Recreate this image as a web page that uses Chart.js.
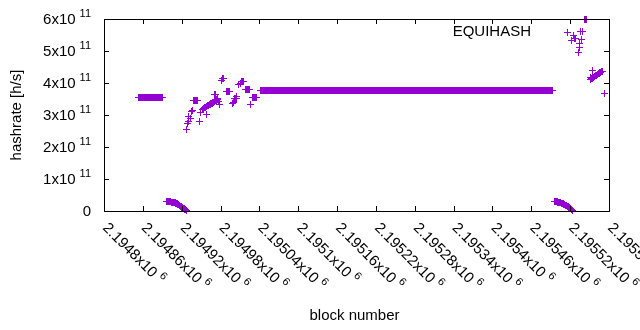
<!DOCTYPE html>
<html>
<head>
<meta charset="utf-8">
<script src="https://cdn.jsdelivr.net/npm/chart.js@4.4.1/dist/chart.umd.min.js"></script>
<style>
html, body { margin: 0; padding: 0; background: #ffffff; }
#wrap { width: 640px; height: 330px; }
</style>
</head>
<body>
<div id="wrap"><canvas id="c" width="640" height="330"></canvas></div>
<script>
// ---------- axis ticks ----------
const BLOCK_BASE = 2194800;
const xTickValues = [2194800, 2194860, 2194920, 2194980, 2195040, 2195100, 2195160,
                     2195220, 2195280, 2195340, 2195400, 2195460, 2195520, 2195580];
const xTickLabels = ['2.1948', '2.19486', '2.19492', '2.19498', '2.19504', '2.1951', '2.19516',
                     '2.19522', '2.19528', '2.19534', '2.1954', '2.19546', '2.19552', '2.19558'];
const xTickExponent = '6';
const yTickValues = [0, 1e11, 2e11, 3e11, 4e11, 5e11, 6e11];
const yTickLabels = ['0', '1x10', '2x10', '3x10', '4x10', '5x10', '6x10'];
const yTickExponent = '11';
const xTitle = 'block number';
const yTitle = 'hashrate [h/s]';
const seriesName = 'EQUIHASH';

// ---------- data (block offset from BLOCK_BASE, hashrate in h/s) ----------
// isolated points
const isoBlocks = [127, 129, 130, 131, 133, 135, 137, 147, 149, 152, 158, 170, 172, 173, 177, 178,
                   181, 183, 185, 199, 200, 205, 207, 211, 227,
                   716, 722, 725, 733, 734, 735, 736, 738, 739, 751, 755, 770, 773];
const isoRates = [2.56e11, 2.72e11, 2.80e11, 2.95e11, 2.88e11, 3.10e11, 3.14e11, 2.79e11, 3.07e11, 3.18e11,
                  3.02e11, 3.65e11, 3.63e11, 3.44e11, 3.42e11, 3.33e11,
                  4.08e11, 4.13e11, 4.15e11, 3.37e11, 3.40e11, 3.58e11, 3.94e11, 3.99e11, 3.33e11,
                  5.58e11, 5.34e11, 5.50e11, 4.96e11, 5.12e11, 5.24e11, 5.60e11, 5.37e11, 5.62e11,
                  4.18e11, 4.38e11, 4.37e11, 3.68e11];
// runs of consecutive blocks with the same hashrate
const runFirst = [53, 139, 189, 201, 212, 219, 230, 241, 726, 742];
const runLast  = [91, 144, 194, 204, 216, 225, 236, 693, 729, 746];
const runRate  = [3.56e11, 3.46e11, 3.75e11, 3.52e11, 4.04e11, 3.81e11, 3.55e11, 3.77e11, 5.38e11, 5.97e11];
// consecutive blocks with changing hashrate
const lowDropAStart = 97;
const lowDropARates = [0.29e11, 0.29e11, 0.29e11, 0.29e11, 0.29e11, 0.29e11, 0.29e11, 0.28e11, 0.28e11,
                       0.28e11, 0.28e11, 0.27e11, 0.27e11, 0.27e11, 0.25e11, 0.23e11, 0.22e11, 0.20e11,
                       0.19e11, 0.18e11, 0.16e11, 0.15e11, 0.14e11, 0.12e11, 0.11e11, 0.10e11, 0.08e11,
                       0.07e11, 0.06e11, 0.05e11, 0.03e11];
const riseStart = 153;
const riseRates = [3.20e11, 3.21e11, 3.22e11, 3.24e11, 3.25e11, 3.26e11, 3.27e11, 3.29e11, 3.30e11, 3.31e11,
                   3.32e11, 3.34e11, 3.35e11, 3.36e11, 3.37e11, 3.39e11, 3.40e11, 3.41e11, 3.43e11, 3.44e11,
                   3.46e11, 3.48e11, 3.50e11, 3.52e11];
const lowDropBStart = 696;
const lowDropBRates = [0.29e11, 0.29e11, 0.29e11, 0.29e11, 0.29e11, 0.28e11, 0.28e11, 0.28e11, 0.27e11,
                       0.26e11, 0.25e11, 0.24e11, 0.23e11, 0.22e11, 0.21e11, 0.20e11, 0.19e11, 0.18e11,
                       0.17e11, 0.16e11, 0.15e11, 0.14e11, 0.12e11, 0.10e11, 0.09e11, 0.07e11, 0.05e11, 0.03e11];
const tailStart = 752;
const tailRates = [4.12e11, 4.13e11, 4.15e11, 4.16e11, 4.18e11, 4.19e11, 4.21e11, 4.22e11, 4.24e11,
                   4.25e11, 4.27e11, 4.28e11, 4.30e11, 4.31e11, 4.33e11, 4.34e11, 4.36e11];

// ---------- build the point table ----------
const points = [];
isoBlocks.forEach((b, i) => points.push({ x: BLOCK_BASE + b, y: isoRates[i] }));
runFirst.forEach((f, i) => {
  for (let b = f; b <= runLast[i]; b++) points.push({ x: BLOCK_BASE + b, y: runRate[i] });
});
[[lowDropAStart, lowDropARates], [riseStart, riseRates], [lowDropBStart, lowDropBRates], [tailStart, tailRates]]
  .forEach(([s, rates]) => rates.forEach((r, i) => points.push({ x: BLOCK_BASE + s + i, y: r })));

const FONT = '"Liberation Sans", Arial, sans-serif';
const COLOR = '#9400d3';

// crisp gnuplot-like "+" marker (7x7 px, 1px strokes)
const plusMarker = document.createElement('canvas');
plusMarker.width = 7; plusMarker.height = 7;
(() => {
  const g = plusMarker.getContext('2d');
  g.fillStyle = COLOR;
  g.fillRect(0, 3, 7, 1);
  g.fillRect(3, 0, 1, 7);
})();

const crispMarkers = {
  id: 'crispMarkers',
  beforeDatasetsDraw(chart) { chart.ctx.imageSmoothingEnabled = false; }
};

const gnuplotAxes = {
  id: 'gnuplotAxes',
  afterDraw(chart) {
    const { ctx, chartArea: a, scales } = chart;
    const xs = scales.x, ys = scales.y;
    const L = Math.round(a.left), R = Math.round(a.right), T = Math.round(a.top), B = Math.round(a.bottom);
    ctx.save();
    ctx.strokeStyle = '#000';
    ctx.lineWidth = 1;
    ctx.beginPath();
    xTickValues.forEach(v => {
      const px = Math.round(xs.getPixelForValue(v)) + 0.5;
      ctx.moveTo(px, B); ctx.lineTo(px, B - 5);
      ctx.moveTo(px, T); ctx.lineTo(px, T + 5);
    });
    yTickValues.forEach(v => {
      const py = Math.round(ys.getPixelForValue(v)) + 0.5;
      ctx.moveTo(L, py); ctx.lineTo(L + 5, py);
      ctx.moveTo(R, py); ctx.lineTo(R - 5, py);
    });
    ctx.stroke();
    ctx.strokeRect(L + 0.5, T + 0.5, R - L, B - T);

    ctx.fillStyle = '#000';
    // y tick labels
    yTickValues.forEach((v, i) => {
      const py = ys.getPixelForValue(v);
      const right = L - 13;
      ctx.textBaseline = 'alphabetic';
      if (i === 0) {
        ctx.font = '15px ' + FONT;
        ctx.textAlign = 'right';
        ctx.fillText(yTickLabels[i], right, py + 5);
        return;
      }
      ctx.font = '11px ' + FONT;
      const wSup = ctx.measureText(yTickExponent).width;
      ctx.textAlign = 'right';
      ctx.fillText(yTickExponent, right, py - 1.7);
      ctx.font = '15px ' + FONT;
      ctx.fillText(yTickLabels[i], right - wSup - 4, py + 5);
    });
    // x tick labels, rotated
    xTickValues.forEach((v, i) => {
      const px = xs.getPixelForValue(v);
      ctx.save();
      ctx.translate(px + 1.5, B + 14);
      ctx.rotate(Math.PI / 4);
      ctx.textAlign = 'left';
      ctx.textBaseline = 'alphabetic';
      ctx.font = '15px ' + FONT;
      const main = xTickLabels[i] + 'x10';
      ctx.fillText(main, 0, 5);
      const w = ctx.measureText(main).width;
      ctx.font = '11px ' + FONT;
      ctx.fillText(xTickExponent, w + 4, -1.7);
      ctx.restore();
    });
    // axis titles
    ctx.font = '15px ' + FONT;
    ctx.textAlign = 'center';
    ctx.textBaseline = 'middle';
    ctx.fillText(xTitle, (L + R) / 2 - 2, 316);
    ctx.save();
    ctx.translate(17, (T + B) / 2);
    ctx.rotate(-Math.PI / 2);
    ctx.fillText(yTitle, 0, 0);
    ctx.restore();
    // key text
    ctx.textAlign = 'right';
    ctx.fillText(seriesName, 531, 32);
    ctx.restore();
  }
};

new Chart(document.getElementById('c').getContext('2d'), {
  type: 'scatter',
  data: {
    datasets: [{
      label: seriesName,
      data: points,
      clip: false,
      pointStyle: plusMarker,
      pointRadius: 3.5,
      pointHoverRadius: 3.5,
      pointBorderWidth: 1,
      borderColor: COLOR,
      backgroundColor: COLOR
    }]
  },
  options: {
    responsive: false,
    animation: false,
    events: [],
    layout: { padding: { left: 104, right: 31, top: 19, bottom: 119 } },
    plugins: { legend: { display: false }, tooltip: { enabled: false } },
    scales: {
      x: { type: 'linear', display: false, min: xTickValues[0], max: xTickValues[xTickValues.length - 1] },
      y: { type: 'linear', display: false, min: yTickValues[0], max: yTickValues[yTickValues.length - 1] }
    }
  },
  plugins: [crispMarkers, gnuplotAxes]
});
</script>
</body>
</html>
